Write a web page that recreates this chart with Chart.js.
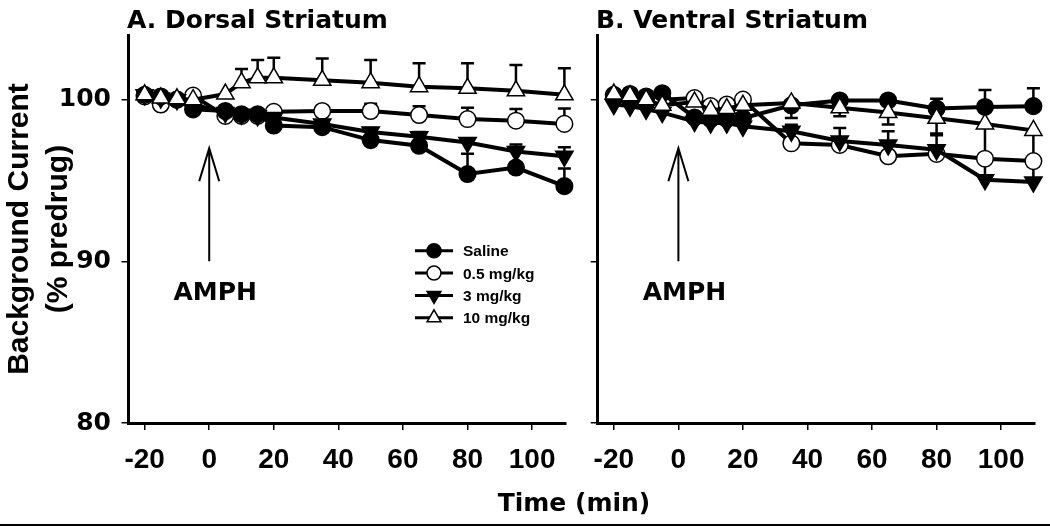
<!DOCTYPE html>
<html>
<head>
<meta charset="utf-8">
<script src="https://cdn.jsdelivr.net/npm/chart.js@4"></script>
<style>
html,body{margin:0;padding:0;background:#fff;}
#wrap{position:relative;width:1050px;height:526px;overflow:hidden;background:#fff;}
canvas{position:absolute;top:0;}
.ttl{position:absolute;font-family:"DejaVu Sans";font-weight:bold;font-size:25px;line-height:25px;white-space:nowrap;color:#000;}
</style>
</head>
<body>
<div id="wrap">
  <canvas id="cA" width="590" height="526" style="left:0px"></canvas>
  <canvas id="cB" width="470" height="526" style="left:580px"></canvas>
  <div class="ttl" style="left:127px;top:7px;">A. Dorsal Striatum</div>
  <div class="ttl" style="left:596px;top:7px;">B. Ventral Striatum</div>
  <div class="ttl" style="left:574px;top:490px;transform:translateX(-50%);">Time (min)</div>
  <div style="position:absolute;left:0;top:524px;width:1050px;height:2px;background:#000;"></div>
</div>
<script>
// ---------- data ----------
const times = [-20, -15, -10, -5, 5, 10, 15, 20, 35, 50, 65, 80, 95, 110];
const xTickVals = [-20, 0, 20, 40, 60, 80, 100];
const yTickVals = [80, 90, 100];
const seriesLabels = ['Saline', '0.5 mg/kg', '3 mg/kg', '10 mg/kg'];
const yTitle = ['Background Current', '(% predrug)'];
const drugLabel = 'AMPH';
const drugTime = 0;

// Panel A: Dorsal Striatum
const salineA = [100.3, 100.2, 100.0, 99.4, 99.3, 99.1, 99.1, 98.4, 98.3, 97.5, 97.15, 95.4, 95.8, 94.65];
const halfA   = [100.2, 99.7, 100.0, 100.25, 99.0, 99.0, 99.0, 99.25, 99.3, 99.3, 99.05, 98.8, 98.7, 98.5];
const threeA  = [100.3, 100.1, 100.0, 99.7, 99.2, 99.1, 99.0, 98.9, 98.5, 98.0, 97.7, 97.35, 96.8, 96.5];
const tenA    = [100.3, 100.1, 100.05, 100.0, 100.35, 101.05, 101.35, 101.35, 101.2, 101.05, 100.8, 100.7, 100.55, 100.3];
const salineA_errUp = [0, 0, 0, 0, 0, 0, 0, 0, 0, 0, 0, 1.25, 0.3, 1.1];
const halfA_errUp   = [0, 0, 0, 0, 0, 0, 0, 0, 0.15, 0.45, 0.55, 0.7, 0.72, 0.95];
const threeA_errUp  = [0, 0, 0, 0, 0, 0, 0, 0, 0.2, 0.25, 0.3, 0.25, 0.42, 0.55];
const tenA_errUp    = [0, 0, 0, 0, 0, 0.85, 1.1, 1.25, 1.35, 1.4, 1.45, 1.55, 1.6, 1.65];

// Panel B: Ventral Striatum
const salineB = [100.3, 100.3, 100.2, 100.4, 98.9, 98.8, 98.8, 98.85, 99.65, 99.95, 99.95, 99.45, 99.55, 99.6];
const halfB   = [100.25, 100.35, 99.95, 100.0, 100.1, 99.6, 99.7, 100.0, 97.3, 97.2, 96.5, 96.65, 96.35, 96.2];
const threeB  = [99.7, 99.6, 99.4, 99.2, 98.65, 98.55, 98.55, 98.35, 98.05, 97.45, 97.2, 96.9, 95.05, 94.9];
const tenB    = [100.35, 100.25, 100.0, 99.65, 99.85, 99.35, 99.45, 99.65, 99.8, 99.5, 99.2, 98.85, 98.5, 98.1];
const salineB_errUp = [0, 0, 0, 0, 0, 0, 0, 0, 0, 0.2, 0.2, 0.6, 1.05, 1.1];
const threeB_errUp  = [0, 0, 0, 0, 0, 0, 0, 0.5, 0.4, 0.8, 0.85, 0.9, 1.2, 1.05];
const tenB_errDown  = [0, 0, 0, 0, 0, 0, 0, 0, 0.93, 0.52, 0.73, 0.95, 2.2, 2.2];

// ---------- styles ----------
const STYLES = [
  {pointStyle: 'circle',   rot: 0,   fill: '#000', r: 8.3, order: 2},
  {pointStyle: 'circle',   rot: 0,   fill: '#fff', r: 8.3, order: 3},
  {pointStyle: 'triangle', rot: 180, fill: '#000', r: 10,  order: 1},
  {pointStyle: 'triangle', rot: 0,   fill: '#fff', r: 10,  order: 0}
];

function makeDataset(idx, values, errUp, errDown) {
  const s = STYLES[idx];
  return {
    label: seriesLabels[idx],
    data: times.map((t, i) => ({x: t, y: values[i]})),
    borderColor: '#000',
    borderWidth: 4,
    pointStyle: s.pointStyle,
    pointRotation: s.rot,
    pointRadius: s.r,
    pointBackgroundColor: s.fill,
    pointBorderColor: '#000',
    pointBorderWidth: 1.5,
    fill: false,
    tension: 0,
    clip: false,
    order: s.order,
    errUp: errUp || null,
    errDown: errDown || null
  };
}

// ---------- plugins ----------
const errorBarPlugin = {
  id: 'errbars',
  beforeDatasetsDraw(chart) {
    const ctx = chart.ctx, xs = chart.scales.x, ys = chart.scales.y;
    ctx.save();
    ctx.strokeStyle = '#000';
    ctx.lineWidth = 2.5;
    chart.data.datasets.forEach(d => {
      [['errUp', 1], ['errDown', -1]].forEach(([k, sgn]) => {
        const e = d[k];
        if (!e) return;
        d.data.forEach((p, j) => {
          if (!e[j]) return;
          const x = xs.getPixelForValue(p.x);
          const y0 = ys.getPixelForValue(p.y);
          const y1 = ys.getPixelForValue(p.y + sgn * e[j]);
          ctx.beginPath();
          ctx.moveTo(x, y0); ctx.lineTo(x, y1);
          ctx.moveTo(x - 6.5, y1); ctx.lineTo(x + 6.5, y1);
          ctx.stroke();
        });
      });
    });
    ctx.restore();
  }
};

const arrowPlugin = {
  id: 'drugArrow',
  afterDatasetsDraw(chart) {
    const ctx = chart.ctx, xs = chart.scales.x, ys = chart.scales.y;
    const x = xs.getPixelForValue(drugTime);
    const yTop = ys.getPixelForValue(97.0);
    const yBot = ys.getPixelForValue(90.0);
    ctx.save();
    ctx.strokeStyle = '#000';
    ctx.lineWidth = 2;
    ctx.beginPath();
    ctx.moveTo(x, yBot); ctx.lineTo(x, yTop);
    ctx.moveTo(x - 10, yTop + 33); ctx.lineTo(x, yTop); ctx.lineTo(x + 10, yTop + 33);
    ctx.stroke();
    ctx.fillStyle = '#000';
    ctx.font = 'bold 25px "DejaVu Sans"';
    ctx.textAlign = 'center';
    ctx.textBaseline = 'alphabetic';
    ctx.fillText(drugLabel, x + 6, yBot + 38.5);
    ctx.restore();
  }
};

const legendPlugin = {
  id: 'innerLegend',
  afterDraw(chart, args, opts) {
    if (!opts || !opts.show) return;
    const ctx = chart.ctx;
    const x0 = opts.x - chart.canvas.offsetLeft;
    ctx.save();
    chart.data.datasets.forEach((d, i) => {
      const y = opts.y + i * opts.dy;
      ctx.strokeStyle = '#000';
      ctx.lineWidth = 3;
      ctx.beginPath();
      ctx.moveTo(x0, y); ctx.lineTo(x0 + 38, y);
      ctx.stroke();
      ctx.fillStyle = d.pointBackgroundColor;
      ctx.strokeStyle = '#000';
      ctx.lineWidth = 1.5;
      Chart.helpers.drawPoint(ctx, {
        pointStyle: d.pointStyle, rotation: d.pointRotation,
        radius: d.pointStyle === 'circle' ? 7 : 8, borderWidth: 1.5
      }, x0 + 19, y);
      ctx.fillStyle = '#000';
      ctx.font = 'bold 15.5px "Liberation Sans"';
      ctx.textAlign = 'left';
      ctx.textBaseline = 'alphabetic';
      ctx.fillText(d.label, x0 + 48, y + 5.5);
    });
    ctx.restore();
  }
};

// ---------- charts ----------
function makeChart(canvasId, datasets, cfg) {
  const axisCommon = {
    grid: {drawOnChartArea: false, drawTicks: true, tickLength: 7, color: '#000', lineWidth: 1.5},
    border: {display: true, color: '#000', width: 3}
  };
  return new Chart(document.getElementById(canvasId), {
    type: 'line',
    data: {datasets},
    options: {
      responsive: false,
      animation: false,
      events: [],
      layout: {padding: {top: 35, right: cfg.padRight, bottom: 0, left: 0}},
      plugins: {
        legend: {display: false},
        tooltip: {enabled: false},
        innerLegend: cfg.legend
      },
      scales: {
        x: Object.assign({}, axisCommon, {
          type: 'linear', min: -25, max: 110.5,
          afterBuildTicks: s => { s.ticks = xTickVals.map(v => ({value: v})); },
          afterFit: s => { s.height = 103; },
          ticks: {color: '#000', font: {family: 'Liberation Sans', weight: 'bold', size: 28}, padding: 13, maxRotation: 0, autoSkip: false}
        }),
        y: Object.assign({}, axisCommon, {
          type: 'linear', min: 80, max: 104,
          afterBuildTicks: s => { s.ticks = yTickVals.map(v => ({value: v})); },
          afterFit: s => { s.width = cfg.yWidth; },
          ticks: {display: cfg.showY, color: '#000', font: {family: 'DejaVu Sans', weight: 'bold', size: 25}, padding: 10.5},
          title: {display: cfg.showY, text: yTitle, color: '#000',
                  font: {family: 'Liberation Sans', weight: 'bold', size: 30, lineHeight: 1.3},
                  padding: {top: 0, bottom: 0}}
        })
      }
    },
    plugins: [errorBarPlugin, arrowPlugin, legendPlugin]
  });
}

makeChart('cA', [
  makeDataset(0, salineA, salineA_errUp),
  makeDataset(1, halfA, halfA_errUp),
  makeDataset(2, threeA, threeA_errUp),
  makeDataset(3, tenA, tenA_errUp)
], {padRight: 24, yWidth: 128.5, showY: true, legend: {show: true, x: 415, y: 250.7, dy: 22.35}});

makeChart('cB', [
  makeDataset(0, salineB, salineB_errUp),
  makeDataset(1, halfB),
  makeDataset(2, threeB, threeB_errUp),
  makeDataset(3, tenB, null, tenB_errDown)
], {padRight: 15, yWidth: 16.7, showY: false, legend: {show: false}});
</script>
</body>
</html>
